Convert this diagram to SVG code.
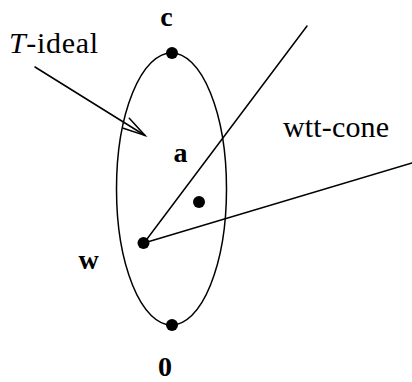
<svg xmlns="http://www.w3.org/2000/svg" width="412" height="382" viewBox="0 0 412 382">
<style>
.ln{fill:none;stroke:#000;stroke-width:1.5;stroke-linecap:round}
.dot{fill:#000}
.lbl{font-family:"Liberation Serif",serif;font-size:30px;fill:#000}
.bold{font-family:"Liberation Serif",serif;font-size:28px;font-weight:bold;fill:#000;text-anchor:middle}
</style>
<rect width="412" height="382" fill="#fff"/>
<g id="ideal">
<ellipse class="ln" cx="171.5" cy="189" rx="55" ry="136"/>
</g>
<g id="connectors">
<line class="ln" x1="144" y1="243" x2="307" y2="26"/>
<line class="ln" x1="144" y1="243" x2="412" y2="163"/>
<line class="ln" x1="35" y1="67" x2="145" y2="135.5"/>
<polyline class="ln" points="129.3,118.3 145,135.5 123.3,128.3"/>
</g>
<g id="node-c">
<circle class="dot" cx="172" cy="53" r="6"/>
<text class="bold" x="166.5" y="26">c</text>
</g>
<g id="node-0">
<circle class="dot" cx="172" cy="325" r="6"/>
<text class="bold" x="165" y="376">0</text>
</g>
<g id="node-w">
<circle class="dot" cx="143.5" cy="243" r="6"/>
<text class="bold" x="88.5" y="269">w</text>
</g>
<g id="node-a">
<circle class="dot" cx="199" cy="202" r="6"/>
<text class="bold" x="180.5" y="162">a</text>
</g>
<g id="label-tideal">
<text class="lbl" x="9" y="53" textLength="89"><tspan font-style="italic">T</tspan>-ideal</text>
</g>
<g id="label-cone">
<text class="lbl" x="283" y="137" textLength="106">wtt-cone</text>
</g>
</svg>
